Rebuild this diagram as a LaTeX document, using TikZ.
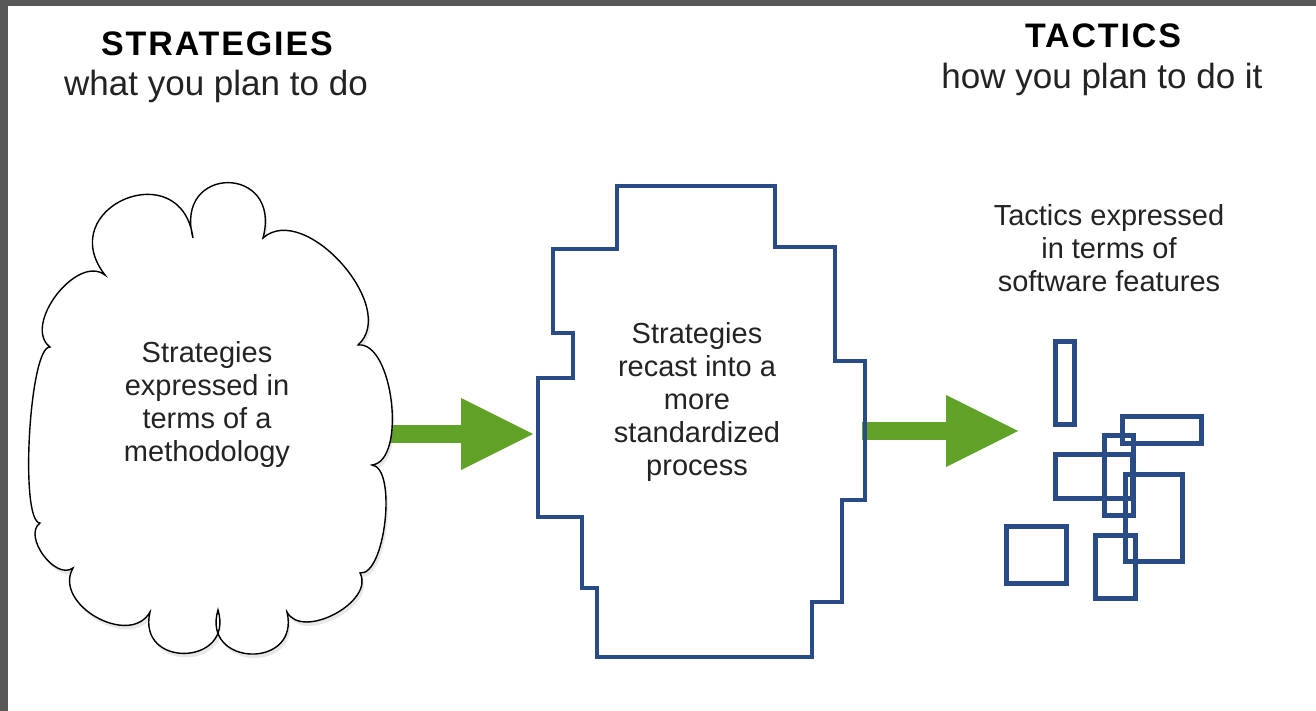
\documentclass[tikz,border=0pt]{standalone}
\usepackage{fontspec}
\setmainfont{Liberation Sans}
\newfontfamily\spacedfont[LetterSpace=5.5]{Liberation Sans}
\usepackage{xcolor}
\usepackage{tikz}
\usetikzlibrary{arrows.meta,shadows}
\definecolor{stepblue}{RGB}{42,76,134}
\definecolor{arrowgreen}{RGB}{96,163,40}
\definecolor{framegray}{RGB}{88,88,88}
\definecolor{inkgray}{RGB}{35,35,35}

\begin{document}
\begin{tikzpicture}[x=1pt,y=-1pt]
			\tikzstyle{heading} = [font=\spacedfont\bfseries\fontsize{34}{40}\selectfont, anchor=base]
			\tikzstyle{subheading} = [font=\fontsize{35}{40}\selectfont, anchor=base, text=inkgray]
			\tikzstyle{blurb} = [font=\fontsize{29}{33}\selectfont, align=center, text=inkgray]
			\tikzstyle{cloudline} = [draw=black, fill=white, line width=1.4pt, drop shadow={opacity=0.18, shadow xshift=2pt, shadow yshift=-4pt}]
			\tikzstyle{puff} = [bend left=105]
			\tikzstyle{stairs} = [draw=stepblue, line width=4.5pt, miter limit=10]
			\tikzstyle{feature} = [draw=stepblue, line width=5pt]
			\tikzset{edge/.style = {draw=arrowgreen, line width=18pt, -{Triangle[length=72pt,width=72pt,line width=0pt]}}}
			
			\useasboundingbox (0,0) rectangle (1316,711);
			\fill[white] (0,0) rectangle (1316,711);
			\fill[framegray] (0,0) rectangle (1316,6);
			\fill[framegray] (0,0) rectangle (8,711);
			
			\node[heading](strat) at (217,56) {STRATEGIES};
			\node[subheading](stratsub) at (216,96) {what you plan to do};
			\node[heading](tact) at (1103,48) {TACTICS};
			\node[subheading](tactsub) at (1102,89) {how you plan to do it};
			
			\coordinate (cloud-east) at (378,434);
			\coordinate (proc-west) at (533,434);
			\coordinate (proc-east) at (862,431);
			\coordinate (feat-west) at (1018,431);
			\draw[edge](cloud-east) to (proc-west);
			\draw[edge](proc-east) to (feat-west);
			
			% methodology cloud
			\draw[cloudline] (105,275) to[puff,looseness=2.3] (193,238)
				to[puff,looseness=2.8] (263,238)
				to[bend left=90,looseness=1.0] (358,345)
				to[bend left=90,looseness=0.75] (372,465)
				to[bend left=90,looseness=0.6] (360,573)
				to[bend left=90,looseness=1.0] (287,612)
				to[puff,looseness=2.2] (218,610)
				to[puff,looseness=2.2] (150,612)
				to[bend left=90,looseness=1.2] (73,568)
				to[bend left=90,looseness=1.0] (40,523)
				to[bend left=90,looseness=0.3] (50,347)
				to[bend left=90,looseness=1.0] (105,275) -- cycle;
			\node[blurb](method) at (207,404) {Strategies\\expressed in\\terms of a\\methodology};
			
			% standardized process
			\draw[stairs] (617,186) -- (775,186) -- (775,247) -- (835,247) -- (835,361) -- (865,361)
				-- (865,500) -- (842,500) -- (842,602) -- (812,602) -- (812,657) -- (597,657)
				-- (597,588) -- (582,588) -- (582,517) -- (538,517) -- (538,378) -- (573,378)
				-- (573,333) -- (553,333) -- (553,249) -- (617,249) -- cycle;
			\node[blurb](process) at (697,402) {Strategies\\recast into a\\more\\standardized\\process};
			
			% software features
			\node[blurb](feat) at (1109,248) {Tactics expressed\\in terms of\\software features};
			\foreach \xa/\ya/\xb/\yb in {1055/341/1074/424, 1122/416/1201/443, 1104/435/1133/515,
				1055/454/1132/498, 1125/474/1182/561, 1006/526/1066/583, 1095/535/1135/598}
				\draw[feature] (\xa,\ya) rectangle (\xb,\yb);
			
\end{tikzpicture}
\end{document}
